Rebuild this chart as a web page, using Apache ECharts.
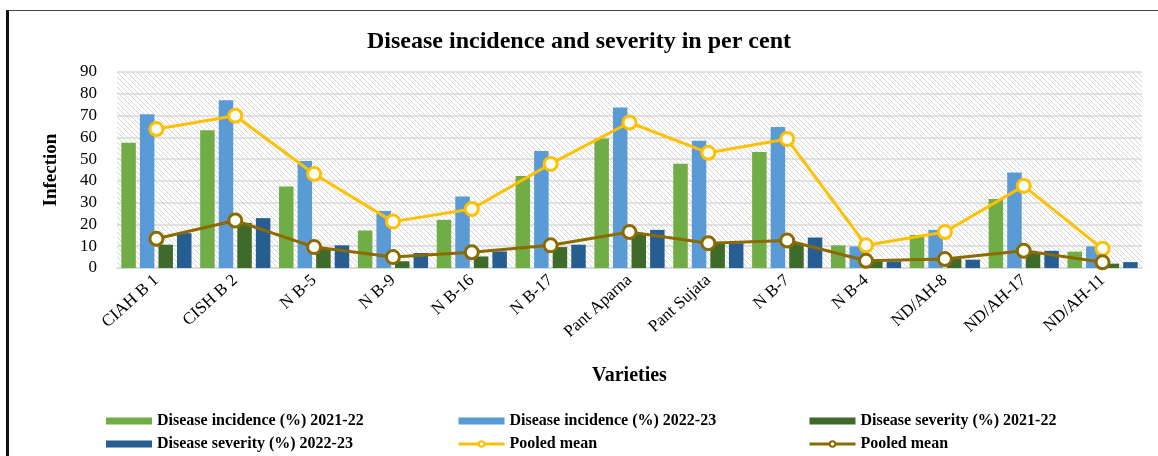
<!DOCTYPE html>
<html>
<head>
<meta charset="utf-8">
<script src="https://cdn.jsdelivr.net/npm/echarts@6/dist/echarts.min.js"></script>
<style>
html,body{margin:0;padding:0;background:#fff;}
#chart{width:1158px;height:456px;position:absolute;left:0;top:0;}
#frame{position:absolute;left:6px;top:10px;width:1160px;height:460px;border-left:3px solid #111;border-top:1px solid #444;pointer-events:none;}
</style>
</head>
<body>
<div id="chart"></div>
<div id="frame"></div>
<script>
const categories = ['CIAH B 1','CISH B 2','N B-5','N B-9','N B-16','N B-17','Pant Aparna','Pant Sujata','N B-7','N B-4','ND/AH-8','ND/AH-17','ND/AH-11'];
const incidence2122 = [57.5, 63.3, 37.4, 17.2, 22.1, 42.3, 59.5, 47.9, 53.3, 10.4, 15.2, 31.7, 7.5];
const incidence2223 = [70.6, 77.0, 49.1, 26.2, 32.8, 53.7, 73.7, 58.4, 64.8, 9.9, 17.5, 43.8, 9.9];
const severity2122 = [10.7, 20.7, 8.8, 3.1, 5.3, 9.6, 15.5, 11.4, 11.2, 3.0, 4.3, 6.9, 2.0];
const severity2223 = [16.0, 22.9, 10.4, 6.9, 7.6, 10.7, 17.5, 11.4, 14.0, 3.0, 3.8, 7.9, 2.7];
const pooledIncidence = [63.8, 69.9, 43.2, 21.3, 27.1, 47.8, 66.8, 52.9, 59.2, 10.4, 16.5, 37.7, 8.8];
const pooledSeverity = [13.4, 21.8, 9.6, 5.0, 7.2, 10.4, 16.5, 11.4, 12.6, 3.3, 4.1, 7.9, 2.6];
const yTicks = [0, 10, 20, 30, 40, 50, 60, 70, 80, 90];

const serif = "'Liberation Serif', 'DejaVu Serif', serif";

// hatched background pattern
const pc = document.createElement('canvas');
pc.width = 5; pc.height = 5;
const g = pc.getContext('2d');
g.fillStyle = '#ffffff'; g.fillRect(0,0,5,5);
g.strokeStyle = '#d6d6d6'; g.lineWidth = 1;
g.beginPath();
g.moveTo(-1,-1); g.lineTo(6,6);
g.moveTo(-1,4); g.lineTo(1,6);
g.moveTo(4,-1); g.lineTo(6,1);
g.stroke();

const chart = echarts.init(document.getElementById('chart'), null, {renderer:'canvas'});
const legendText = {fontFamily: serif, fontWeight: 'bold', fontSize: 16, color: '#000'};
const legendBase = {orient:'vertical', top: 413, bottom: 0, padding: 0, itemWidth: 46, itemHeight: 7, itemGap: 7, textStyle: legendText};

const barCommon = {type:'bar', barGap:'28%', barCategoryGap:'11%'};
const lineCommon = {type:'line', symbol:'circle', symbolSize: 13, z: 5};

chart.setOption({
  animation: false,
  title: {
    text: 'Disease incidence and severity in per cent',
    left: 'center', top: 25,
    textStyle: {fontFamily: serif, fontWeight: 'bold', fontSize: 24, color: '#000'}
  },
  grid: {left: 117, right: 16, top: 72, bottom: 188, show: true, backgroundColor: {image: pc, repeat: 'repeat'}, borderWidth: 0},
  legend: [
    Object.assign({}, legendBase, {left: 106, data: [{name:'Disease incidence (%) 2021-22', icon:'rect'}, {name:'Disease severity (%) 2022-23', icon:'rect'}]}),
    Object.assign({}, legendBase, {left: 457, data: [{name:'Disease incidence (%) 2022-23', icon:'rect'}, {name:'Pooled mean', lineStyle:{width:3}, itemStyle:{borderWidth:2}}]}),
    Object.assign({}, legendBase, {left: 808, data: [{name:'Disease severity (%) 2021-22', icon:'rect'}, {name:'Pooled mean ', lineStyle:{width:3}, itemStyle:{borderWidth:2}}]})
  ],
  xAxis: {
    type: 'category', data: categories,
    name: 'Varieties', nameLocation: 'middle', nameGap: 98,
    nameTextStyle: {fontFamily: serif, fontWeight: 'bold', fontSize: 20, color: '#000'},
    axisLine: {lineStyle: {color: '#d9d9d9', width: 1.5}},
    axisTick: {show: false},
    axisLabel: {rotate: 42, fontFamily: serif, fontSize: 17, color: '#000', margin: 10, interval: 0}
  },
  yAxis: {
    type: 'value', min: yTicks[0], max: yTicks[yTicks.length-1], interval: 10,
    name: 'Infection', nameLocation: 'middle', nameGap: 56,
    nameTextStyle: {fontFamily: serif, fontWeight: 'bold', fontSize: 19, color: '#000'},
    axisLine: {show: false}, axisTick: {show: false},
    axisLabel: {fontFamily: serif, fontSize: 17, color: '#000', margin: 20},
    splitLine: {lineStyle: {color: '#d9d9d9', width: 1.5}}
  },
  series: [
    Object.assign({}, barCommon, {name:'Disease incidence (%) 2021-22', data: incidence2122, itemStyle:{color:'#70AD47'}}),
    Object.assign({}, barCommon, {name:'Disease incidence (%) 2022-23', data: incidence2223, itemStyle:{color:'#5B9BD5'}}),
    Object.assign({}, barCommon, {name:'Disease severity (%) 2021-22', data: severity2122, itemStyle:{color:'#3F6B2A'}}),
    Object.assign({}, barCommon, {name:'Disease severity (%) 2022-23', data: severity2223, itemStyle:{color:'#275E91'}}),
    Object.assign({}, lineCommon, {name:'Pooled mean', data: pooledIncidence, itemStyle:{color:'#fff', borderColor:'#FFC000', borderWidth:3}, lineStyle:{width:3, color:'#FFC000'}}),
    Object.assign({}, lineCommon, {name:'Pooled mean ', data: pooledSeverity, itemStyle:{color:'#fff', borderColor:'#8C6A00', borderWidth:3}, lineStyle:{width:3, color:'#8C6A00'}})
  ]
});
</script>
</body>
</html>
